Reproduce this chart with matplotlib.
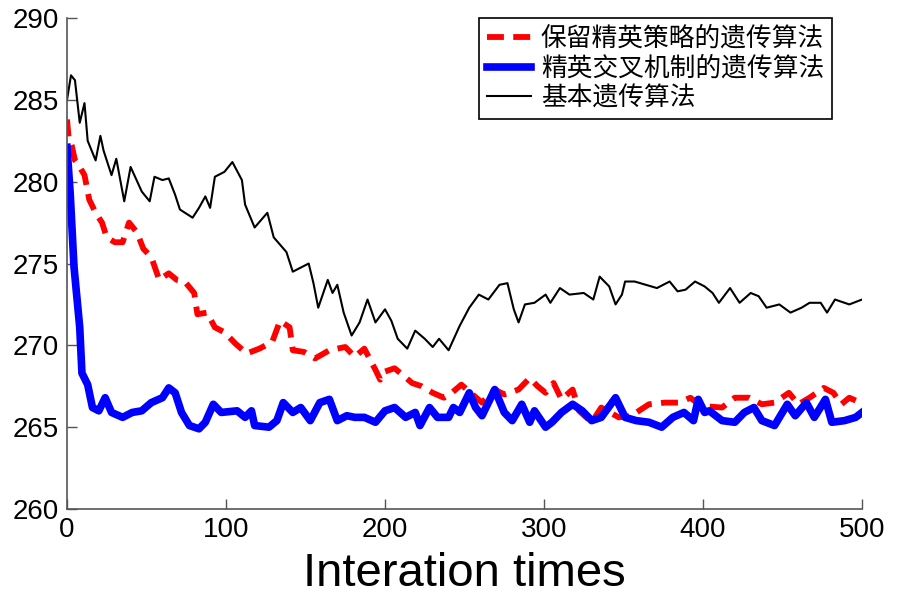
import numpy as np
import matplotlib
matplotlib.use("Agg")
import matplotlib.pyplot as plt
from matplotlib import font_manager

# values
it_basic = [0, 2.5, 5, 8, 11, 13, 18, 21, 23, 28, 31, 36, 40, 47, 52, 55, 60, 64, 68, 71,
            79, 83, 87, 90, 93, 99, 104, 110, 112, 118, 126, 130, 138, 142, 152, 155, 158,
            164, 167, 170, 174, 179, 184, 189, 194, 200, 204, 208, 214, 219, 225, 230, 234,
            240, 247, 253, 259, 265, 272, 277, 281, 284, 288, 294, 301, 304, 310, 316, 325,
            331, 335, 341, 345, 349, 351, 357, 364, 371, 379, 384, 389, 395, 401, 406, 410,
            417, 423, 430, 435, 440, 448, 455, 462, 467, 474, 478, 483, 492, 500]
basic = [285.0, 286.5, 286.2, 283.6, 284.8, 282.5, 281.3, 282.8, 281.9, 280.4, 281.4, 278.8,
         280.9, 279.4, 278.8, 280.3, 280.1, 280.2, 279.2, 278.3, 277.8, 278.4, 279.1, 278.4,
         280.3, 280.6, 281.2, 280.1, 278.6, 277.2, 278.1, 276.6, 275.7, 274.5, 275.0, 273.8,
         272.3, 274.0, 273.2, 273.7, 272.0, 270.6, 271.4, 272.8, 271.4, 272.2, 271.5, 270.4,
         269.8, 270.9, 270.4, 269.9, 270.4, 269.7, 271.2, 272.3, 273.1, 272.8, 273.7, 273.8,
         272.2, 271.4, 272.5, 272.6, 273.1, 272.6, 273.5, 273.1, 273.2, 272.8, 274.2, 273.6,
         272.5, 273.1, 273.9, 273.9, 273.7, 273.5, 273.9, 273.3, 273.4, 273.9, 273.6, 273.2,
         272.6, 273.5, 272.6, 273.2, 273.0, 272.3, 272.5, 272.0, 272.3, 272.6, 272.6, 272.0,
         272.8, 272.5, 272.8]

it_elite = [0, 1, 3, 5, 8, 11, 14, 18, 22, 25, 30, 35, 39, 44, 48, 53, 58, 64, 69, 74, 80,
            82, 88, 93, 99, 106, 113, 121, 129, 134, 140, 142, 149, 156, 165, 175, 181, 187,
            194, 197, 200, 206, 211, 217, 223, 230, 237, 242, 248, 255, 261, 269, 275, 284,
            291, 296, 301, 306, 311, 318, 322, 330, 336, 347, 355, 366, 376, 385, 392, 399,
            412, 420, 429, 437, 445, 454, 460, 467, 476, 482, 487, 492, 499]
elite = [283.8, 282.7, 282.2, 281.3, 280.9, 280.4, 278.9, 278.1, 277.5, 276.6, 276.3, 276.3,
         277.5, 276.9, 275.9, 275.4, 274.0, 274.4, 274.0, 273.9, 273.2, 271.9, 272.0, 271.1,
         270.8, 270.1, 269.5, 269.8, 270.2, 271.5, 271.1, 269.7, 269.6, 269.2, 269.7, 269.9,
         269.3, 269.8, 268.5, 267.9, 268.4, 268.6, 268.2, 267.7, 267.5, 267.1, 266.8, 267.1,
         267.6, 267.0, 266.5, 267.3, 267.0, 267.3, 268.0, 267.5, 267.1, 267.7, 266.7, 267.3,
         266.0, 265.3, 266.2, 265.6, 265.7, 266.4, 266.5, 266.5, 266.8, 266.3, 266.2, 266.8,
         266.8, 266.4, 266.5, 267.1, 266.4, 266.8, 267.4, 267.1, 266.4, 266.8, 266.5]

it_cross = [0, 2, 4.4, 8, 9.4, 13, 16, 20, 24, 28, 35, 41, 47, 53, 60, 64, 68, 72, 77, 83,
            87, 92, 97, 107, 112, 116, 118, 127, 132, 136, 142, 147, 153, 159, 165, 170, 176,
            181, 187, 194, 200, 206, 213, 219, 222, 228, 233, 240, 243, 247, 253, 257, 261,
            269, 275, 280, 286, 291, 294, 301, 305, 311, 318, 324, 330, 336, 345, 351, 358,
            366, 374, 381, 388, 394, 397, 401, 404, 412, 420, 426, 432, 437, 445, 453, 458,
            465, 470, 477, 481, 489, 496, 500]
cross = [282.1, 279.3, 274.8, 271.1, 268.3, 267.6, 266.2, 266.0, 266.8, 265.9, 265.6, 265.9,
         266.0, 266.5, 266.8, 267.4, 267.1, 265.9, 265.1, 264.9, 265.3, 266.4, 265.9, 266.0,
         265.6, 266.0, 265.1, 265.0, 265.4, 266.5, 265.9, 266.2, 265.4, 266.5, 266.7, 265.4,
         265.7, 265.6, 265.6, 265.3, 266.0, 266.2, 265.6, 265.9, 265.1, 266.2, 265.6, 265.6,
         266.2, 265.9, 267.1, 266.2, 265.7, 267.3, 265.9, 265.4, 266.4, 265.3, 266.0, 265.0,
         265.3, 265.9, 266.4, 266.0, 265.4, 265.6, 266.8, 265.6, 265.4, 265.3, 265.0, 265.6,
         265.9, 265.4, 266.7, 265.9, 266.0, 265.4, 265.3, 265.9, 266.2, 265.4, 265.1, 266.4,
         265.7, 266.5, 265.6, 266.7, 265.3, 265.4, 265.6, 265.9]

labels = ['保留精英策略的遗传算法', '精英交叉机制的遗传算法', '基本遗传算法']
xticks = [0, 100, 200, 300, 400, 500]
yticks = [260, 265, 270, 275, 280, 285, 290]

installed = {f.name for f in font_manager.fontManager.ttflist}
num_font = 'Liberation Sans Narrow' if 'Liberation Sans Narrow' in installed else 'Liberation Sans'
plt.rcParams['font.family'] = [num_font, 'Noto Sans CJK SC', 'DejaVu Sans']

fig = plt.figure(figsize=(8.97, 5.97), dpi=100)
ax = fig.add_axes([0.0747, 0.1474, 0.8863, 0.8224])

ax.plot(it_elite, elite, color='red', lw=4.2, dashes=(2.9, 1.6), label=labels[0])
ax.plot(it_cross, cross, color='blue', lw=5.5, solid_joinstyle='round', label=labels[1])
ax.plot(it_basic, basic, color='black', lw=1.5, label=labels[2])

ax.set_xlim(0, 500)
ax.set_ylim(260, 290)
ax.set_xticks(xticks)
ax.set_yticks(yticks)
ax.spines['top'].set_visible(False)
ax.spines['right'].set_visible(False)
for s in ['left', 'bottom']:
    ax.spines[s].set_color('#555555')
    ax.spines[s].set_linewidth(1.2)
ax.tick_params(direction='in', length=7, width=1, color='#555555', labelsize=20, pad=6)
ax.set_xlabel('Interation times', fontsize=34, labelpad=6)

leg = ax.legend(loc='upper right', bbox_to_anchor=(0.962, 1.0), borderaxespad=0,
                fancybox=False, framealpha=1, edgecolor='black',
                prop={'family': ['Noto Sans CJK SC'], 'size': 18.5},
                handlelength=1.7, handletextpad=0.4, borderpad=0.3, labelspacing=0.15)
leg.get_frame().set_linewidth(1.2)

fig.savefig('out.png', dpi=100)
